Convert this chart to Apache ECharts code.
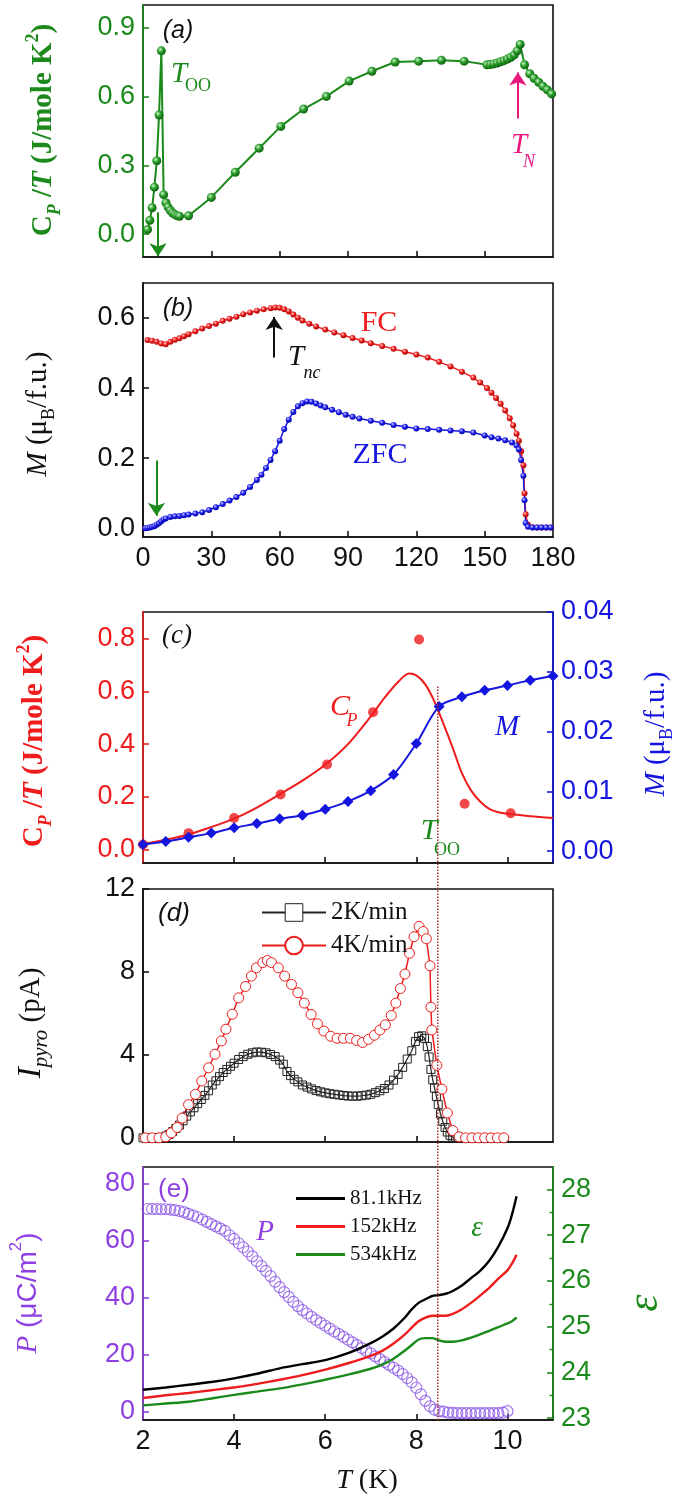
<!DOCTYPE html>
<html><head><meta charset="utf-8">
<script src="https://cdn.jsdelivr.net/npm/echarts@6/dist/echarts.min.js"></script>
<style>html,body{margin:0;padding:0;background:#fff}#c{width:685px;height:1504px}</style>
</head><body><div id="c"></div><script>
// ---------------- DATA ----------------
// (a) Cp/T vs T (K)
const cpA = [[2,0.02],[3,0.06],[4,0.115],[5,0.205],[6.05,0.32],[7.05,0.52],[8.06,0.8],[9.06,0.172],[10.07,0.137],[11,0.118],[12,0.103],[13,0.092],[14,0.085],[15,0.08],[16,0.078],[20,0.08],[30,0.16],[40.5,0.27],[51,0.375],[60.5,0.47],[70.5,0.546],[80.5,0.601],[90.5,0.668],[100.5,0.711],[110.7,0.751],[121,0.755],[131,0.759],[141,0.755],[151,0.739],[152.5,0.74],[154,0.743],[155.5,0.747],[157,0.752],[158.5,0.757],[160,0.764],[161.5,0.772],[163,0.782],[164.3,0.8],[165.6,0.828],[167.5,0.739],[169.8,0.70],[171.7,0.68],[173.7,0.663],[175.6,0.645],[177.5,0.63],[179.4,0.612]];
// (b) M FC / ZFC
const mFC = [[2,0.537],[4,0.535],[6,0.532],[8,0.527],[10,0.525],[12,0.532],[14,0.538],[16,0.542],[18,0.548],[20,0.554],[23,0.562],[26,0.57],[29,0.577],[32,0.584],[35,0.592],[38,0.598],[41,0.604],[44,0.611],[47,0.616],[50,0.621],[53,0.625],[56,0.628],[58,0.63],[60,0.629],[62,0.625],[64,0.619],[66,0.61],[68,0.601],[70,0.593],[73,0.584],[76,0.576],[80,0.567],[84,0.559],[88,0.551],[92,0.543],[96,0.536],[100,0.528],[105,0.52],[110,0.512],[115,0.504],[120,0.496],[125,0.487],[130,0.475],[135,0.462],[140,0.447],[145,0.43],[148,0.416],[151,0.4],[153,0.387],[155,0.372],[157,0.355],[159,0.336],[161,0.314],[162.5,0.294],[164,0.27],[165,0.25],[166,0.22],[167,0.18],[167.5,0.1],[168,0.04],[169,0.01],[171,0.003],[173,0.002],[175,0.002],[177,0.002],[179,0.002]];
const mZFC = [[1,0],[2,0.001],[3,0.002],[4,0.004],[5,0.006],[6,0.01],[7,0.014],[8,0.02],[9,0.025],[10,0.028],[12,0.032],[14,0.034],[16,0.035],[18,0.037],[20,0.039],[23,0.042],[26,0.046],[29,0.052],[32,0.06],[35,0.069],[38,0.079],[41,0.089],[44,0.101],[47,0.118],[50,0.138],[52,0.153],[54,0.172],[56,0.195],[58,0.22],[60,0.25],[62,0.283],[64,0.31],[66,0.332],[68,0.348],[70,0.357],[72,0.362],[74,0.361],[76,0.356],[78,0.35],[80,0.345],[83,0.338],[86,0.331],[89,0.324],[92,0.318],[95,0.313],[100,0.307],[105,0.301],[110,0.295],[115,0.29],[120,0.285],[125,0.283],[130,0.281],[135,0.279],[140,0.277],[145,0.273],[150,0.265],[153,0.26],[156,0.256],[159,0.251],[162,0.245],[164,0.236],[165,0.225],[166,0.195],[167,0.15],[167.5,0.08],[168,0.015],[169,0.004],[171,0.002],[173,0.002],[175,0.002],[177,0.002],[179,0.002]];
// (c) Cp/T points, fit, and M
const cpC = [[2.0,0.02],[3.0,0.063],[4.0,0.12],[5.02,0.209],[6.04,0.323],[7.05,0.521],[8.06,0.796],[9.06,0.174],[10.07,0.138]];
const cpFit = [[2.0,0.022],[2.5,0.038],[3.0,0.058],[3.5,0.086],[4.0,0.118],[4.5,0.16],[5.0,0.21],[5.5,0.262],[6.0,0.322],[6.5,0.4],[7.0,0.505],[7.3,0.575],[7.6,0.635],[7.84,0.667],[8.0,0.66],[8.2,0.625],[8.4,0.56],[8.6,0.475],[8.8,0.385],[9.0,0.29],[9.2,0.225],[9.4,0.183],[9.6,0.155],[9.8,0.142],[10.0,0.136],[10.5,0.127],[11.0,0.12]];
const mC = [[2.0,0.0011],[2.5,0.0016],[3.0,0.0023],[3.5,0.003],[4.0,0.0039],[4.5,0.0046],[5.0,0.0054],[5.5,0.006],[6.0,0.007],[6.5,0.0083],[7.0,0.0101],[7.5,0.0128],[8.0,0.018],[8.5,0.0242],[9.0,0.0258],[9.5,0.0269],[10.0,0.0277],[10.5,0.0286],[11.0,0.0293]];
// (d) pyroelectric current
const ip4 = [[2.05,0],[2.2,0],[2.35,0],[2.5,0.05],[2.62,0.24],[2.75,0.5],[2.86,0.95],[3.0,1.6],[3.15,2.1],[3.29,2.74],[3.44,3.38],[3.58,4.03],[3.72,4.67],[3.82,5.24],[3.96,5.96],[4.1,6.75],[4.25,7.3],[4.38,7.8],[4.49,8.2],[4.63,8.45],[4.73,8.55],[4.82,8.45],[4.97,8.2],[5.11,7.8],[5.26,7.4],[5.4,7.0],[5.54,6.5],[5.69,5.95],[5.83,5.5],[5.97,5.15],[6.12,4.9],[6.26,4.8],[6.4,4.8],[6.55,4.8],[6.69,4.7],[6.82,4.6],[6.95,4.75],[7.08,4.95],[7.2,5.2],[7.32,5.45],[7.45,5.9],[7.55,6.5],[7.65,7.2],[7.75,7.9],[7.85,8.9],[7.95,9.7],[8.06,10.2],[8.15,9.95],[8.22,9.6],[8.3,8.3],[8.32,6.3],[8.34,5.2],[8.45,3.5],[8.56,2.35],[8.68,1.2],[8.8,0.35],[8.94,0.05],[9.08,0],[9.22,0],[9.36,0],[9.5,0],[9.64,0],[9.78,0],[9.92,0]];
const ip2 = [[2.0,0],[2.1,0],[2.2,0],[2.3,0],[2.4,0.02],[2.5,0.08],[2.57,0.16],[2.65,0.3],[2.72,0.45],[2.8,0.62],[2.88,0.82],[2.96,1.05],[3.04,1.25],[3.12,1.45],[3.2,1.65],[3.28,1.85],[3.36,2.05],[3.44,2.27],[3.52,2.55],[3.6,2.75],[3.68,2.95],[3.76,3.15],[3.84,3.3],[3.92,3.45],[4.0,3.6],[4.1,3.78],[4.2,3.92],[4.3,4.03],[4.4,4.1],[4.5,4.14],[4.6,4.13],[4.7,4.1],[4.8,4.02],[4.9,3.92],[5.0,3.75],[5.08,3.55],[5.16,3.2],[5.24,3.0],[5.32,2.82],[5.4,2.7],[5.5,2.55],[5.6,2.45],[5.7,2.36],[5.8,2.28],[5.9,2.22],[6.0,2.17],[6.1,2.13],[6.2,2.1],[6.3,2.07],[6.4,2.04],[6.5,2.02],[6.6,2.01],[6.7,2.01],[6.8,2.03],[6.9,2.06],[7.0,2.1],[7.1,2.18],[7.2,2.27],[7.3,2.38],[7.4,2.55],[7.5,2.78],[7.6,3.06],[7.7,3.4],[7.8,3.8],[7.9,4.2],[7.98,4.65],[8.05,4.88],[8.12,4.92],[8.18,4.8],[8.24,4.4],[8.28,3.9],[8.32,3.3],[8.36,2.8],[8.4,2.4],[8.44,2.0],[8.48,1.6],[8.53,1.15],[8.58,0.8],[8.63,0.5],[8.68,0.28],[8.74,0.12],[8.8,0.03],[8.86,0],[8.92,0]];
// (e) polarization and dielectric constant
const polP = [[2.1,71],[2.2,71],[2.3,71],[2.4,70.9],[2.5,70.9],[2.6,70.8],[2.7,70.6],[2.8,70.3],[2.9,69.9],[3.0,69.3],[3.1,68.7],[3.2,68.1],[3.3,67.3],[3.4,66.5],[3.5,65.7],[3.6,64.9],[3.7,64.1],[3.8,63.3],[3.9,61.8],[4.0,60.5],[4.1,59.0],[4.2,57.6],[4.3,56.1],[4.4,54.4],[4.5,52.7],[4.6,51.0],[4.7,49.3],[4.8,47.5],[4.9,45.5],[5.0,43.6],[5.1,41.9],[5.2,40.2],[5.3,38.5],[5.4,37.0],[5.5,35.6],[5.6,34.4],[5.7,33.2],[5.8,32.1],[5.9,31.1],[6.0,30.1],[6.1,29.1],[6.2,28.1],[6.3,27.2],[6.4,26.2],[6.5,25.2],[6.6,24.3],[6.7,23.3],[6.8,22.3],[6.9,21.3],[7.0,20.4],[7.1,19.4],[7.2,18.4],[7.3,17.4],[7.4,16.4],[7.5,15.4],[7.6,14.4],[7.7,13.2],[7.8,11.8],[7.9,10.3],[8.0,8.4],[8.1,6.1],[8.2,3.8],[8.3,1.9],[8.4,0.7],[8.5,0.2],[8.6,0],[8.7,-0.3],[8.8,-0.4],[8.9,-0.5],[9.0,-0.5],[9.1,-0.5],[9.2,-0.5],[9.3,-0.5],[9.4,-0.5],[9.5,-0.5],[9.6,-0.5],[9.7,-0.5],[9.8,-0.5],[9.9,-0.3],[10.0,0.2]];
const eps81 = [[2.0,23.62],[2.5,23.67],[3.0,23.73],[3.5,23.79],[4.0,23.87],[4.5,23.97],[5.0,24.09],[5.5,24.18],[6.0,24.27],[6.5,24.42],[7.0,24.64],[7.25,24.78],[7.5,24.96],[7.75,25.2],[7.9,25.38],[8.05,25.52],[8.2,25.6],[8.35,25.67],[8.5,25.69],[8.65,25.72],[8.8,25.78],[9.0,25.9],[9.2,26.06],[9.4,26.22],[9.6,26.44],[9.8,26.75],[10.0,27.15],[10.1,27.45],[10.2,27.85]];
const eps152 = [[2.0,23.44],[2.5,23.5],[3.0,23.55],[3.5,23.61],[4.0,23.67],[4.5,23.75],[5.0,23.84],[5.5,23.94],[6.0,24.06],[6.5,24.2],[7.0,24.36],[7.25,24.47],[7.5,24.63],[7.75,24.83],[7.9,24.98],[8.05,25.12],[8.2,25.2],[8.35,25.24],[8.5,25.24],[8.65,25.24],[8.8,25.28],[9.0,25.38],[9.2,25.52],[9.4,25.68],[9.6,25.85],[9.8,26.05],[10.0,26.23],[10.1,26.38],[10.2,26.57]];
const eps534 = [[2.0,23.28],[2.5,23.32],[3.0,23.36],[3.5,23.43],[4.0,23.51],[4.5,23.58],[5.0,23.65],[5.5,23.74],[6.0,23.84],[6.5,23.95],[7.0,24.08],[7.25,24.17],[7.5,24.3],[7.75,24.48],[7.9,24.6],[8.05,24.72],[8.2,24.75],[8.35,24.75],[8.5,24.7],[8.65,24.67],[8.8,24.67],[9.0,24.7],[9.2,24.76],[9.4,24.83],[9.6,24.91],[9.8,24.99],[10.0,25.07],[10.1,25.12],[10.2,25.2]];
// T_OO marker line position
const tOO = [[8.47,0],[8.47,1]];
// tick labels
const ticksA_y = [0,0.3,0.6,0.9];
const ticksB_y = [0,0.2,0.4,0.6];
const ticksAB_x = [0,30,60,90,120,150,180];
const ticksC_y = [0,0.2,0.4,0.6,0.8];
const ticksC_y2 = [0,0.01,0.02,0.03,0.04];
const ticksD_y = [0,4,8,12];
const ticksE_y = [0,20,40,60,80];
const ticksE_y2 = [23,24,25,26,27,28];
const ticksE_y2minor = [23.5,24.5,25.5,26.5,27.5];
const ticksT = [2,4,6,8,10];

// ---------------- STYLE ----------------
const SANS = '"Liberation Sans", Arial, sans-serif';
const SERIF = '"Liberation Serif", "Times New Roman", serif';
const GREEN = '#1b8a1b', RED = '#ee1c1c', BLUE = '#1515e0', PURPLE = '#8f3fe2', MAG = '#e8187e', BLACK = '#111';
const L = 143, W = 410, TF = 27;
const ball = (light, mid, dark) => ({type:'radial', x:0.38, y:0.35, r:0.7, colorStops:[{offset:0,color:light},{offset:0.45,color:mid},{offset:1,color:dark}]});

function xAx(grid, min, max, ticks, labels) {
  return {gridIndex:grid, type:'value', min, max,
    axisLine:{onZero:false, lineStyle:{color:BLACK, width:1.6}},
    axisTick:{inside:true, length:6, customValues:ticks, lineStyle:{color:BLACK, width:1.6}},
    axisLabel: labels ? {customValues:labels, fontSize:TF, fontFamily:SANS, color:BLACK, margin:8} : {show:false},
    splitLine:{show:false}};
}
function yAx(grid, min, max, vals, color, dec, pos) {
  return {gridIndex:grid, type:'value', min, max, position:pos||'left',
    axisLine:{show:true, onZero:false, lineStyle:{color, width:1.6}},
    axisTick:{show:true, inside:true, length:6, customValues:vals, lineStyle:{color, width:1.6}},
    axisLabel:{customValues:vals, fontSize:TF, fontFamily:SANS, color, margin:8, formatter:v=>Number(v).toFixed(dec)},
    splitLine:{show:false}};
}

const grids = [
  {left:L, top:5, width:W, height:252},
  {left:L, top:283, width:W, height:254},
  {left:L, top:612, width:W, height:251},
  {left:L, top:889, width:W, height:253},
  {left:L, top:1167, width:W, height:253},
  {left:L, top:685, width:W, height:735}
].map((g,i)=>Object.assign(g, i<5 ? {show:true, borderColor:BLACK, borderWidth:1.6, backgroundColor:'transparent'} : {show:false}));

const xAxes = [
  xAx(0,0,180,[30,60,90,120,150],null),
  xAx(1,0,180,[30,60,90,120,150],ticksAB_x),
  xAx(2,2,11,[4,6,8,10],null),
  xAx(3,2,11,[4,6,8,10],null),
  xAx(4,2,11,[4,6,8,10],ticksT),
  {gridIndex:5, type:'value', min:2, max:11, show:false}
];
const yMinor = {gridIndex:4, type:'value', min:22.96, max:28.49, position:'right',
  axisLine:{show:false}, axisTick:{show:true, inside:true, length:3.5, customValues:ticksE_y2minor, lineStyle:{color:GREEN, width:1.4}},
  axisLabel:{show:false}, splitLine:{show:false}};
const yAxes = [
  yAx(0,-0.1,1.0,ticksA_y,GREEN,1),
  yAx(1,-0.025,0.7,ticksB_y,BLACK,1),
  yAx(2,-0.05,0.9,ticksC_y,RED,1),
  yAx(2,-0.002,0.04,ticksC_y2,BLUE,2,'right'),
  yAx(3,-0.2,12,ticksD_y,BLACK,0),
  yAx(4,-2.9,85.7,ticksE_y,PURPLE,0),
  yAx(4,22.96,28.49,ticksE_y2,GREEN,0,'right'),
  yMinor,
  {gridIndex:5, type:'value', min:0, max:1, show:false}
];

const arrowML = (color, from, to) => ({silent:true, symbol:['none','arrow'], symbolSize:13, label:{show:false},
  lineStyle:{color, width:2, type:'solid'}, emphasis:{disabled:true}, animation:false,
  data:[[{coord:from},{coord:to}]]});

const series = [
  {name:'CpA', type:'line', xAxisIndex:0, yAxisIndex:0, data:cpA, symbol:'circle', symbolSize:9,
   itemStyle:{color:ball('#c8f5c8','#2a9c2a','#0a5a0a')}, lineStyle:{color:GREEN, width:2},
   markLine:arrowML(GREEN,[6.6,0.095],[6.6,-0.097])},
  {name:'arrowTN', type:'line', xAxisIndex:0, yAxisIndex:0, data:[], markLine:arrowML(MAG,[164.6,0.505],[164.6,0.705])},
  {name:'FC', type:'line', xAxisIndex:1, yAxisIndex:1, data:mFC, symbol:'circle', symbolSize:6,
   itemStyle:{color:ball('#ffd0d0','#f02020','#a00000')}, lineStyle:{color:RED, width:1.5},
   markLine:arrowML(BLACK,[57.6,0.487],[57.6,0.603])},
  {name:'ZFC', type:'line', xAxisIndex:1, yAxisIndex:1, data:mZFC, symbol:'circle', symbolSize:6,
   itemStyle:{color:ball('#d0d0ff','#2020f0','#0000a0')}, lineStyle:{color:BLUE, width:1.5},
   markLine:arrowML(GREEN,[5.9,0.193],[5.9,0.036])},
  {name:'CpFit', type:'line', xAxisIndex:2, yAxisIndex:2, data:cpFit, symbol:'none', smooth:0.3, lineStyle:{color:RED, width:2}},
  {name:'CpC', type:'scatter', xAxisIndex:2, yAxisIndex:2, data:cpC, symbol:'circle', symbolSize:10, itemStyle:{color:RED}},
  {name:'MC', type:'line', xAxisIndex:2, yAxisIndex:3, data:mC, symbol:'diamond', symbolSize:11, smooth:0.3,
   itemStyle:{color:BLUE}, lineStyle:{color:BLUE, width:2}},
  {name:'2K/min', type:'line', xAxisIndex:3, yAxisIndex:4, data:ip2, symbol:'rect', symbolSize:8,
   itemStyle:{color:'rgba(255,255,255,0)', borderColor:'#222', borderWidth:1}, lineStyle:{color:'#222', width:1.2}},
  {name:'4K/min', type:'line', xAxisIndex:3, yAxisIndex:4, data:ip4, symbol:'circle', symbolSize:10,
   itemStyle:{color:'#fff', borderColor:RED, borderWidth:1}, lineStyle:{color:RED, width:1.5}},
  {name:'P', type:'scatter', xAxisIndex:4, yAxisIndex:5, data:polP, symbol:'circle', symbolSize:11,
   itemStyle:{color:'rgba(255,255,255,0)', borderColor:'#8a55e6', borderWidth:1.2}},
  {name:'81.1kHz', type:'line', xAxisIndex:4, yAxisIndex:6, data:eps81, symbol:'none', smooth:0.3, lineStyle:{color:'#000', width:2.4}, itemStyle:{color:'#000'}},
  {name:'152kHz', type:'line', xAxisIndex:4, yAxisIndex:6, data:eps152, symbol:'none', smooth:0.3, lineStyle:{color:RED, width:2.4}, itemStyle:{color:RED}},
  {name:'534kHz', type:'line', xAxisIndex:4, yAxisIndex:6, data:eps534, symbol:'none', smooth:0.3, lineStyle:{color:GREEN, width:2.4}, itemStyle:{color:GREEN}},
  {name:'Too', type:'line', xAxisIndex:5, yAxisIndex:8, data:tOO, symbol:'none', z:10, lineStyle:{color:'#a83030', width:1.5, type:'dotted'}}
];

// ---------------- TEXT ----------------
const f = (sz, st, fam) => `${st||''} ${sz}px ${fam||SERIF}`.trim();
function tx(x, y, text, font, fill, extra) {
  return Object.assign({type:'text', x, y, z:100, silent:true,
    style:{text, font, fill, align:'center', verticalAlign:'middle', textAlign:'center', textVerticalAlign:'middle'}}, extra||{});
}
function rt(x, y, text, rich, fill, rot) {
  return {type:'text', x, y, rotation:rot||0, z:100, silent:true,
    style:{text, rich, fill, font:rich.n.font, align:'center', verticalAlign:'middle', textAlign:'center', textVerticalAlign:'middle'}};
}
const richCp = {
  n:{font:f(29,'bold'), lineHeight:40},
  i:{font:f(29,'italic bold'), lineHeight:40},
  s:{font:f(18,'italic bold'), verticalAlign:'bottom'},
  p:{font:f(18,'bold'), verticalAlign:'top'}
};
const richM = {
  n:{font:f(29), lineHeight:40},
  i:{font:f(29,'italic'), lineHeight:40},
  s:{font:f(18), verticalAlign:'bottom'}
};
const richI = {
  n:{font:f(29), lineHeight:42},
  i:{font:f(33,'italic'), lineHeight:42},
  s:{font:f(21,'italic'), verticalAlign:'bottom'}
};
const richP = {
  n:{font:f(28,'',SANS), lineHeight:40},
  i:{font:f(29,'italic'), lineHeight:40},
  p:{font:f(17,'',SANS), verticalAlign:'top'}
};
const richT = {
  n:{font:f(28), lineHeight:36},
  i:{font:f(28,'italic'), lineHeight:36}
};
const R = Math.PI/2;
const graphic = [
  // axis titles
  rt(44,130,'{n|C}{s|P}{n| /}{i|T}{n| (J/mole K}{p|2}{n|)}', richCp, GREEN, R),
  rt(38,414,'{i|M}{n| (μ}{s|B}{n|/f.u.)}', richM, BLACK, R),
  rt(35,741,'{n|C}{s|P}{n| /}{i|T}{n| (J/mole K}{p|2}{n|)}', richCp, RED, R),
  rt(656,734,'{i|M}{n| (μ}{s|B}{n|/f.u.)}', richM, BLUE, R),
  rt(31,1023,'{i|I}{s|pyro}{n| (pA)}', richI, BLACK, R),
  rt(28,1293,'{i|P}{n| (μC/m}{p|2}{n|)}', richP, PURPLE, R),
  tx(645,1303,'ε', f(44,'italic'), GREEN, {rotation:R}),
  rt(367,1481,'{i|T}{n| (K)}', richT, BLACK, 0),
  // panel labels
  tx(178,31,'(a)', f(25,'italic',SANS), BLACK),
  tx(178,309,'(b)', f(25,'italic',SANS), BLACK),
  tx(177,636,'(c)', f(27,'italic'), BLACK),
  tx(174,914,'(d)', f(26,'italic',SANS), BLACK),
  tx(174,1190,'(e)', f(26,'',SANS), PURPLE),
  // annotations
  tx(179,74,'T', f(29,'italic'), GREEN), tx(198,86,'OO', f(18), GREEN),
  tx(519,145,'T', f(29,'italic'), MAG), tx(529,162,'N', f(18,'italic'), MAG),
  tx(379,323,'FC', f(30), RED),
  tx(380,455,'ZFC', f(30), BLUE),
  tx(296,357,'T', f(29,'italic'), BLACK), tx(312,373,'nc', f(18,'italic'), BLACK),
  tx(340,707,'C', f(30,'italic'), RED), tx(352,721,'P', f(18,'italic'), RED),
  tx(507,727,'M', f(29,'italic'), BLUE),
  tx(429,831,'T', f(30,'italic'), GREEN), tx(447,850,'OO', f(18), GREEN),
  tx(265,1232,'P', f(29,'italic'), PURPLE),
  tx(477,1228,'ε', f(29,'italic'), GREEN)
];

const legends = [
  {left:256, top:895, orient:'vertical', itemWidth:64, itemHeight:22, itemGap:8,
   textStyle:{fontFamily:SERIF, fontSize:25, color:BLACK, lineHeight:25},
   data:[{name:'2K/min', itemStyle:{color:'#fff', borderColor:'#222', borderWidth:1}}, {name:'4K/min'}], selectedMode:false},
  {left:291, top:1183, orient:'vertical', itemWidth:49, itemHeight:3, itemGap:7, icon:'rect',
   textStyle:{fontFamily:SERIF, fontSize:21, color:BLACK, lineHeight:21},
   data:['81.1kHz','152kHz','534kHz'], selectedMode:false}
];

const chart = echarts.init(document.getElementById('c'), null, {renderer:'canvas'});
chart.setOption({
  animation:false,
  backgroundColor:'#fff',
  textStyle:{fontFamily:SANS},
  grid:grids, xAxis:xAxes, yAxis:yAxes, series, legend:legends, graphic
});
</script></body></html>
